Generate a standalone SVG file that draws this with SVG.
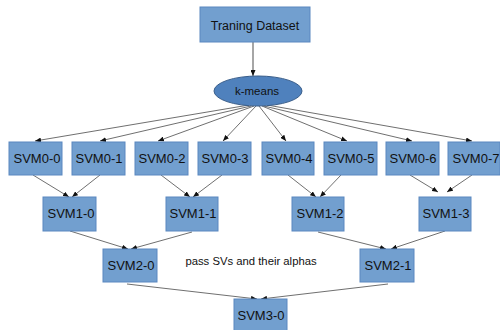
<svg xmlns="http://www.w3.org/2000/svg" width="500" height="330" viewBox="0 0 500 330">
<style>
.box{fill:#729fcf;stroke:#5a87c0;stroke-width:1}
.ell{fill:#4f81bd;stroke:#385d8a;stroke-width:1}
.t{font-family:"Liberation Sans",Arial,sans-serif;font-size:13px;fill:#111;text-anchor:middle}
.c{stroke:#4a4a4a;stroke-width:0.8;fill:none;marker-end:url(#ah)}
</style>
<defs>
<marker id="ah" markerUnits="userSpaceOnUse" markerWidth="6" markerHeight="5" refX="6" refY="2.5" orient="auto">
<path d="M0,0 L6,2.5 L0,5 z" fill="#111"/>
</marker>
</defs>
<rect width="500" height="330" fill="#fff"/>
<g id="connectors">
<line x1="253" y1="42" x2="253" y2="76" stroke="#888" stroke-width="1.5" marker-end="url(#ah)"/>
<line class="c" x1="249" y1="105" x2="35" y2="141"/>
<line class="c" x1="251" y1="106" x2="100" y2="141"/>
<line class="c" x1="254" y1="106" x2="158" y2="141"/>
<line class="c" x1="256" y1="106" x2="223" y2="141"/>
<line class="c" x1="259" y1="106" x2="286" y2="141"/>
<line class="c" x1="262" y1="106" x2="347" y2="141"/>
<line class="c" x1="264" y1="106" x2="412" y2="141"/>
<line class="c" x1="267" y1="105" x2="472" y2="141"/>
<line class="c" x1="33" y1="175" x2="69" y2="197"/>
<line class="c" x1="100" y1="175" x2="72" y2="197"/>
<line class="c" x1="161" y1="175" x2="190" y2="197"/>
<line class="c" x1="222" y1="175" x2="193" y2="197"/>
<line class="c" x1="288" y1="175" x2="316" y2="197"/>
<line class="c" x1="341" y1="175" x2="320" y2="197"/>
<line class="c" x1="410" y1="175" x2="438" y2="192"/>
<line class="c" x1="472" y1="175" x2="447" y2="192"/>
<line class="c" x1="70" y1="231" x2="128" y2="249"/>
<line class="c" x1="192" y1="232" x2="131" y2="249"/>
<line class="c" x1="318" y1="232" x2="386" y2="249"/>
<line class="c" x1="445" y1="231" x2="391" y2="249"/>
<line class="c" x1="127" y1="284" x2="257" y2="299"/>
<line class="c" x1="388" y1="284" x2="261" y2="299"/>
</g>
<g id="training"><rect class="box" x="200" y="7" width="110" height="35"/><text class="t" x="255" y="29.5" style="font-size:12.5px">Traning Dataset</text></g>
<g id="kmeans"><ellipse class="ell" cx="258" cy="91" rx="44" ry="15"/><text class="t" x="257" y="95" style="font-size:11.5px">k-means</text></g>
<g id="svm0-0"><rect class="box" x="9" y="142" width="53" height="33"/><text class="t" x="37" y="163">SVM0-0</text></g>
<g id="svm0-1"><rect class="box" x="72" y="142" width="53" height="33"/><text class="t" x="99" y="163">SVM0-1</text></g>
<g id="svm0-2"><rect class="box" x="135" y="142" width="53" height="33"/><text class="t" x="162" y="163">SVM0-2</text></g>
<g id="svm0-3"><rect class="box" x="198" y="142" width="53" height="33"/><text class="t" x="225" y="163">SVM0-3</text></g>
<g id="svm0-4"><rect class="box" x="262" y="142" width="52" height="33"/><text class="t" x="289" y="163">SVM0-4</text></g>
<g id="svm0-5"><rect class="box" x="324" y="142" width="53" height="33"/><text class="t" x="351" y="163">SVM0-5</text></g>
<g id="svm0-6"><rect class="box" x="386" y="142" width="53" height="33"/><text class="t" x="413" y="163">SVM0-6</text></g>
<g id="svm0-7"><rect class="box" x="448" y="142" width="52" height="33"/><text class="t" x="476" y="163">SVM0-7</text></g>
<g id="svm1-0"><rect class="box" x="43" y="197" width="53" height="34"/><text class="t" x="71" y="218">SVM1-0</text></g>
<g id="svm1-1"><rect class="box" x="166" y="197" width="52" height="34"/><text class="t" x="193" y="218">SVM1-1</text></g>
<g id="svm1-2"><rect class="box" x="292" y="197" width="52" height="34"/><text class="t" x="320" y="218">SVM1-2</text></g>
<g id="svm1-3"><rect class="box" x="419" y="197" width="52" height="34"/><text class="t" x="446" y="218">SVM1-3</text></g>
<g id="svm2-0"><rect class="box" x="103" y="249" width="54" height="33"/><text class="t" x="131" y="269.5">SVM2-0</text></g>
<g id="svm2-1"><rect class="box" x="360" y="249" width="54" height="33"/><text class="t" x="388" y="269.5">SVM2-1</text></g>
<g id="svm3-0"><rect class="box" x="234" y="299" width="53" height="32"/><text class="t" x="261" y="320">SVM3-0</text></g>
<text class="t" x="251" y="265" style="font-size:11.3px">pass SVs and their alphas</text>
</svg>
